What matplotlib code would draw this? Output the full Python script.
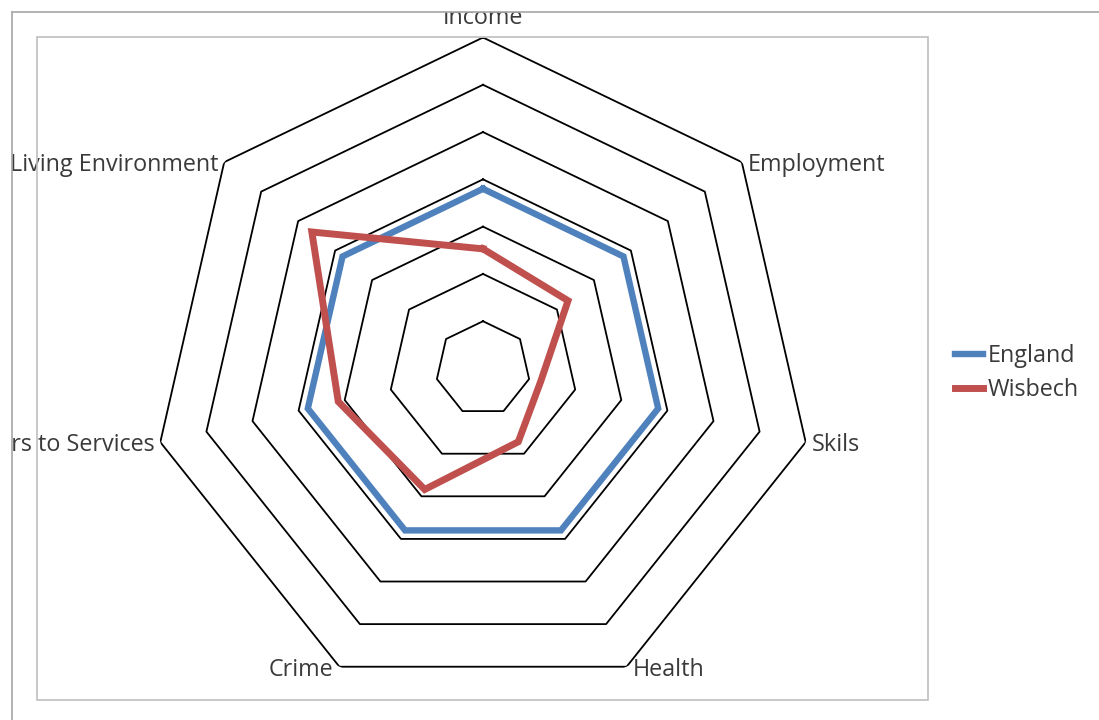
import numpy as np
import matplotlib
matplotlib.use("Agg")
import matplotlib.pyplot as plt
from matplotlib.patches import Rectangle
from matplotlib.lines import Line2D
from matplotlib.transforms import Bbox, TransformedBbox

categories = ['Income', 'Employment', 'Skils', 'Health', 'Crime',
              'Barriers to Services', 'Living Environment']
england = [3.8, 3.8, 3.8, 3.8, 3.8, 3.8, 3.8]
wisbech = [2.53, 2.30, 1.25, 1.72, 2.84, 3.14, 4.63]
rings = [1, 2, 3, 4, 5, 6, 7]

plt.rcParams['font.family'] = ['Open Sans', 'DejaVu Sans']

W, H = 1099, 720
fig = plt.figure(figsize=(W / 100, H / 100), dpi=100)

# chart area edges (only top and left visible) and plot area box
fig.add_artist(Line2D([12 / W, 1], [1 - 12 / H, 1 - 12 / H], transform=fig.transFigure,
                      color='#a6a6a6', lw=1.2))
fig.add_artist(Line2D([12 / W, 12 / W], [0, 1 - 12 / H], transform=fig.transFigure,
                      color='#a6a6a6', lw=1.2))
fig.add_artist(Rectangle((37 / W, 1 - 700 / H), (928 - 37) / W, (700 - 37) / H,
                         transform=fig.transFigure, fill=False, ec='#bfbfbf', lw=1.2))

cx, cy, R = 483, 368.5, 331
ax = fig.add_axes([(cx - R) / W, (H - cy - R) / H, 2 * R / W, 2 * R / H], projection='polar')
ax.set_theta_offset(np.pi / 2)
ax.set_theta_direction(-1)
ax.set_ylim(0, 7)
ax.grid(False)
ax.spines['polar'].set_visible(False)
ax.set_xticks([])
ax.set_yticks([])
ax.patch.set_alpha(0)

n = len(categories)
theta = np.linspace(0, 2 * np.pi, n, endpoint=False)
closed = np.append(theta, theta[0])

for r in rings:
    ax.plot(closed, [r] * (n + 1), color='black', lw=1.3, zorder=1)

ax.plot(closed, england + england[:1], color='#4f81bd', lw=4.6, label='England',
        solid_joinstyle='miter', zorder=3)
ax.plot(closed, wisbech + wisbech[:1], color='#c0504d', lw=5.0, label='Wisbech',
        solid_joinstyle='miter', zorder=4)

# category labels sit just outside the outer ring; the chart edge clips them
clip = TransformedBbox(Bbox([[12 / W, 0], [1, 1 - 12 / H]]), fig.transFigure)
offsets = [(0, 19, 'center'), (6, -3, 'left'), (6, -3, 'left'), (6, -3, 'left'),
           (-6, -3, 'right'), (-6, -3, 'right'), (-6, -3, 'right')]
for t, name, (dx, dy, ha) in zip(theta, categories, offsets):
    a = ax.annotate(name, (t, 7), xytext=(dx, dy), textcoords='offset pixels',
                    ha=ha, va='center', fontsize=16.8, color='#3a3a3a', annotation_clip=False)
    a.set_clip_box(clip)
    a.set_clip_on(True)

fig.legend(loc='center left', bbox_to_anchor=(955 / W, 1 - 373 / H), frameon=False,
           fontsize=16.8, handlelength=1.2, handletextpad=0.22, labelspacing=0.4,
           borderaxespad=0, borderpad=0, labelcolor='#3a3a3a')

fig.savefig('out.png', dpi=100)
